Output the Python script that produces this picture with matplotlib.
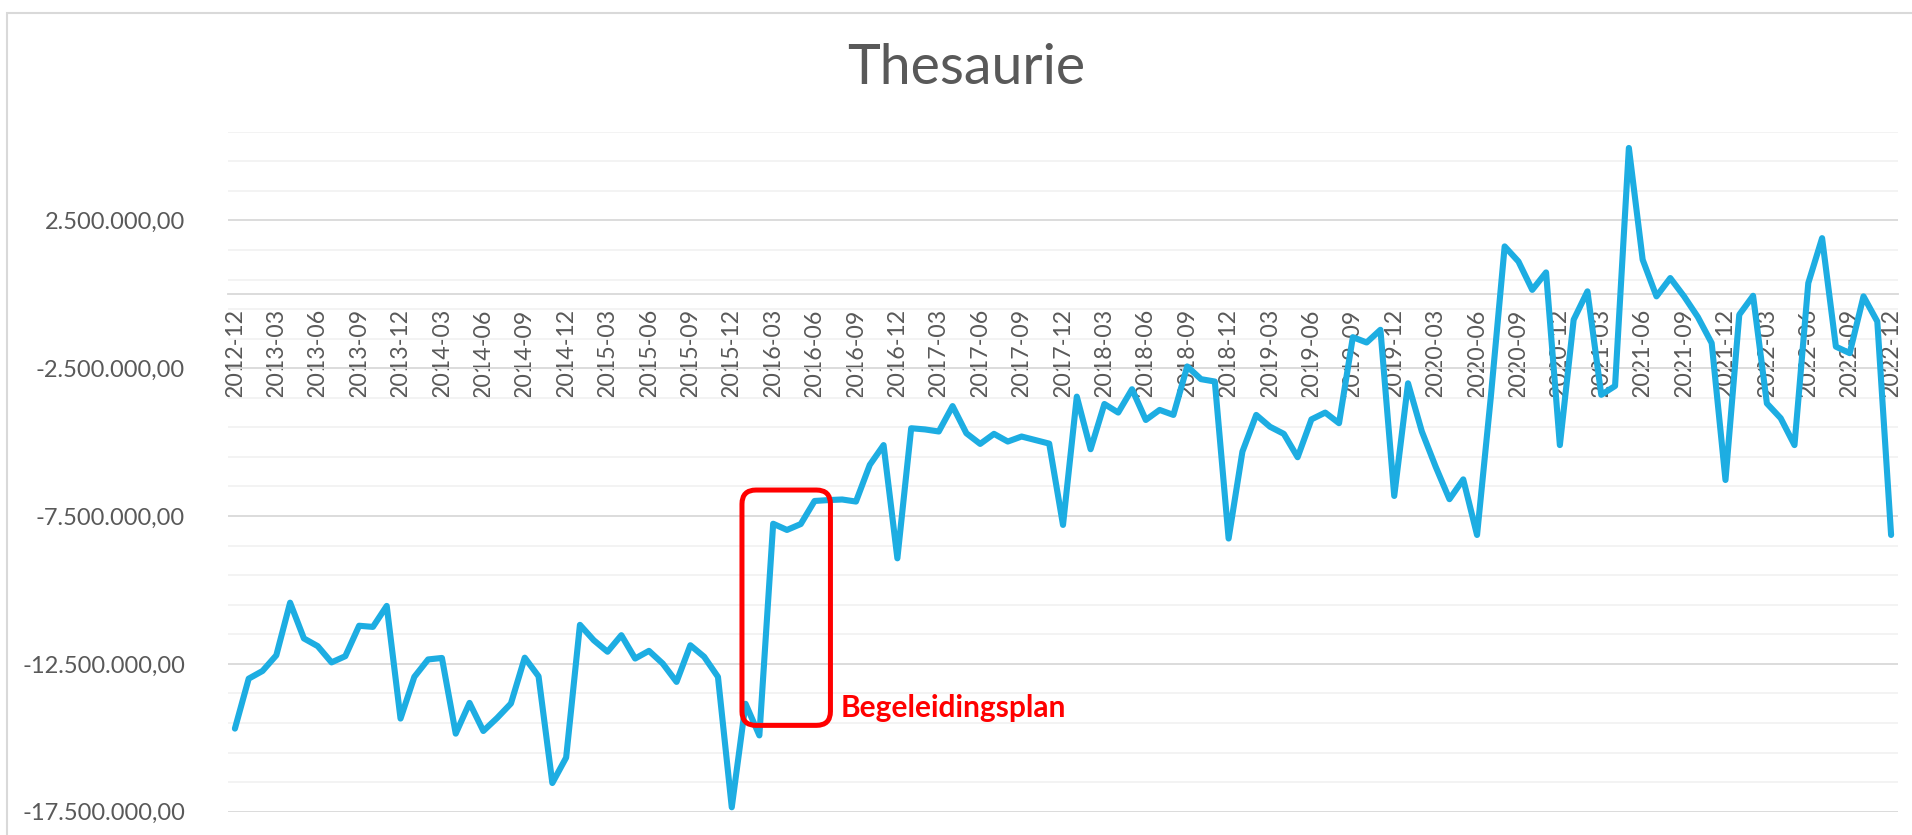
import matplotlib
matplotlib.use("Agg")
import matplotlib.pyplot as plt
from matplotlib.patches import FancyBboxPatch, Rectangle
from matplotlib.transforms import IdentityTransform

plt.rcParams['font.family'] = ['Lato', 'DejaVu Sans']

# ---- data -------------------------------------------------------------
months = [f"{y}-{m:02d}" for y in range(2012, 2023) for m in range(1, 13)][11:]  # 2012-12 .. 2022-12

# Thesaurie balance, in millions of euro
values_m = [
    -14.69, -13.00, -12.74, -12.21, -10.43, -11.64, -11.90, -12.45, -12.24, -11.21,
    -11.25, -10.54, -14.35, -12.94, -12.35, -12.30, -14.86, -13.82, -14.77, -14.33,
    -13.84, -12.29, -12.92, -16.53, -15.67, -11.18, -11.70, -12.09, -11.53, -12.32,
    -12.06, -12.49, -13.11, -11.87, -12.26, -12.94, -17.35, -13.85, -14.92, -7.76,
    -7.97, -7.77, -6.99, -6.96, -6.94, -7.01, -5.77, -5.10, -8.93, -4.53,
    -4.57, -4.64, -3.78, -4.70, -5.06, -4.72, -4.98, -4.81, -4.93, -5.05,
    -7.80, -3.46, -5.24, -3.71, -4.00, -3.21, -4.25, -3.91, -4.08, -2.44,
    -2.87, -2.95, -8.26, -5.32, -4.08, -4.48, -4.72, -5.51, -4.23, -4.00,
    -4.36, -1.45, -1.63, -1.20, -6.82, -3.01, -4.64, -5.83, -6.93, -6.26,
    -8.14, -3.46, 1.62, 1.11, 0.15, 0.74, -5.10, -0.86, 0.10, -3.40,
    -3.10, 4.95, 1.17, -0.07, 0.55, -0.07, -0.77, -1.65, -6.28, -0.69,
    -0.05, -3.69, -4.19, -5.10, 0.38, 1.90, -1.77, -1.99, -0.07, -0.92,
    -8.14,
]

xtick_labels = months[::3]
ytick_values = [-17.5, -12.5, -7.5, -2.5, 2.5]
ytick_labels = ["-17.500.000,00", "-12.500.000,00", "-7.500.000,00",
                "-2.500.000,00", "2.500.000,00"]
minor_grid = [-16.5 + k for k in range(23)]  # -16.5 .. 5.5

title = "Thesaurie"
note = "Begeleidingsplan"

# ---- figure -----------------------------------------------------------
W, H = 1912, 835
fig = plt.figure(figsize=(W / 100, H / 100), dpi=100)
ax = fig.add_axes([228 / W, 1 - 811.7 / H, (1898 - 228) / W, (811.7 - 131.7) / H])

line_color = "#1DADE2"
grey_txt = "#595959"

ax.plot(range(len(values_m)), values_m, color=line_color, lw=4.4,
        solid_joinstyle='round', solid_capstyle='round', zorder=3)

ax.set_xlim(-0.5, len(values_m) - 0.5)
ax.set_ylim(-17.5, 5.5)

# grid
ax.set_yticks(ytick_values)
ax.set_yticklabels(ytick_labels)
ax.set_yticks(minor_grid, minor=True)
ax.grid(which='major', axis='y', color='#D9D9D9', lw=1.3, zorder=0)
ax.grid(which='minor', axis='y', color='#F2F2F2', lw=1.3, zorder=0)
ax.set_axisbelow(True)

for s in ['left', 'right', 'top']:
    ax.spines[s].set_visible(False)
ax.spines['bottom'].set_position(('data', 0))
ax.spines['bottom'].set_color('#D9D9D9')
ax.spines['bottom'].set_linewidth(1.3)

ax.set_xticks(range(0, len(values_m), 3))
ax.set_xticklabels(xtick_labels, rotation=90)
ax.tick_params(axis='x', length=0, pad=10, labelsize=16.7, labelcolor=grey_txt)
ax.tick_params(axis='y', which='both', length=0, pad=31, labelsize=17, labelcolor=grey_txt)

# title
fig.text(966 / W, 1 - 68 / H, title, ha='center', va='center',
         fontsize=40, color=grey_txt)

# chart-area border
fig.patches.append(Rectangle((7, -10), W + 20, (H - 13) + 10, transform=IdentityTransform(),
                             fill=False, ec='#D9D9D9', lw=1.5, figure=fig))

# red annotation box
fig.canvas.draw()
(px0, py0) = ax.transData.transform((36.74, -14.58))
(px1, py1) = ax.transData.transform((43.15, -6.62))
box = FancyBboxPatch((px0, py0), px1 - px0, py1 - py0,
                     boxstyle="round,pad=0,rounding_size=14",
                     transform=IdentityTransform(), fill=False, ec='#FF0000',
                     lw=3.6, zorder=5, clip_on=False)
ax.add_artist(box)
ax.text(43.87, -14.31, note, color='#FF0000', fontsize=21.5, fontweight='bold',
        ha='left', va='baseline', zorder=5)

fig.savefig("out.png", dpi=100, facecolor='white')
